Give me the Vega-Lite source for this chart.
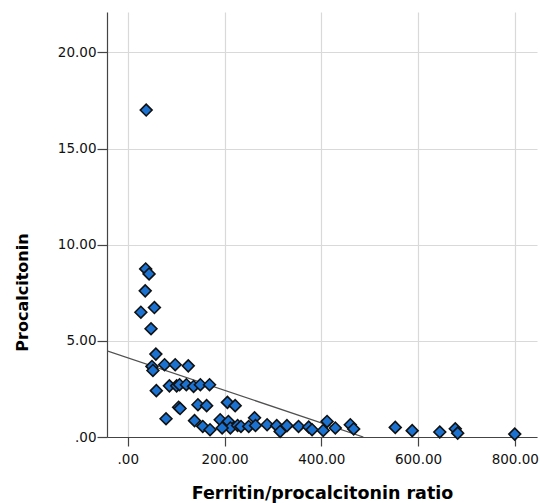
{
  "$schema": "https://vega.github.io/schema/vega-lite/v6.json",
  "width": 430,
  "height": 425,
  "autosize": "none",
  "padding": {"left": 107, "top": 12, "right": 3, "bottom": 66},
  "background": "white",
  "config": {
    "view": {"stroke": null},
    "axis": {
      "labelFont": "DejaVu Sans",
      "labelFontSize": 13.5,
      "labelColor": "#111111",
      "titleFont": "DejaVu Sans",
      "titleFontSize": 16,
      "titleFontWeight": "bold",
      "titleColor": "#000000",
      "domainColor": "#444444",
      "domainWidth": 1.2,
      "tickColor": "#444444",
      "tickWidth": 1.2,
      "gridColor": "#d9d9d9",
      "gridWidth": 1.2
    }
  },
  "datasets": {
    "pts": [
      {"ratio": 38, "pct": 17.0},
      {"ratio": 37, "pct": 8.74},
      {"ratio": 44, "pct": 8.48},
      {"ratio": 36, "pct": 7.6},
      {"ratio": 27, "pct": 6.49},
      {"ratio": 55, "pct": 6.73},
      {"ratio": 48, "pct": 5.63},
      {"ratio": 58, "pct": 4.31},
      {"ratio": 50, "pct": 3.67},
      {"ratio": 52, "pct": 3.46},
      {"ratio": 76, "pct": 3.76},
      {"ratio": 98, "pct": 3.76},
      {"ratio": 125, "pct": 3.7},
      {"ratio": 59, "pct": 2.41},
      {"ratio": 86, "pct": 2.66},
      {"ratio": 101, "pct": 2.66},
      {"ratio": 107, "pct": 2.72},
      {"ratio": 121, "pct": 2.72},
      {"ratio": 136, "pct": 2.63},
      {"ratio": 150, "pct": 2.72},
      {"ratio": 169, "pct": 2.72},
      {"ratio": 105, "pct": 1.55},
      {"ratio": 108, "pct": 1.48},
      {"ratio": 145, "pct": 1.68},
      {"ratio": 163, "pct": 1.63},
      {"ratio": 206, "pct": 1.8},
      {"ratio": 222, "pct": 1.63},
      {"ratio": 79, "pct": 0.95},
      {"ratio": 138, "pct": 0.85},
      {"ratio": 155, "pct": 0.55},
      {"ratio": 170, "pct": 0.38},
      {"ratio": 191, "pct": 0.9},
      {"ratio": 208, "pct": 0.81},
      {"ratio": 212, "pct": 0.47},
      {"ratio": 195, "pct": 0.47},
      {"ratio": 227, "pct": 0.6},
      {"ratio": 234, "pct": 0.55},
      {"ratio": 250, "pct": 0.55},
      {"ratio": 262, "pct": 1.0},
      {"ratio": 264, "pct": 0.6},
      {"ratio": 288, "pct": 0.64},
      {"ratio": 308, "pct": 0.59},
      {"ratio": 315, "pct": 0.29},
      {"ratio": 329, "pct": 0.59},
      {"ratio": 353, "pct": 0.55},
      {"ratio": 374, "pct": 0.52},
      {"ratio": 381, "pct": 0.38},
      {"ratio": 404, "pct": 0.34},
      {"ratio": 412, "pct": 0.81},
      {"ratio": 429, "pct": 0.47},
      {"ratio": 460, "pct": 0.64},
      {"ratio": 467, "pct": 0.42},
      {"ratio": 553, "pct": 0.5},
      {"ratio": 588, "pct": 0.33},
      {"ratio": 645, "pct": 0.26},
      {"ratio": 677, "pct": 0.43},
      {"ratio": 682, "pct": 0.2},
      {"ratio": 800, "pct": 0.15}
    ],
    "fit": [
      {"ratio": -43, "pct": 4.48},
      {"ratio": 487, "pct": 0}
    ]
  },
  "layer": [
    {
      "data": {"name": "fit"},
      "mark": {"type": "line", "color": "#505050", "strokeWidth": 1.3, "clip": true},
      "encoding": {
        "x": {
          "field": "ratio", "type": "quantitative",
          "scale": {"domain": [-43, 846], "nice": false, "zero": false},
          "axis": {
            "values": [0, 200, 400, 600, 800],
            "labelExpr": "datum.value == 0 ? '.00' : format(datum.value, '.2f')",
            "title": "Ferritin/procalcitonin ratio",
            "titleFontSize": 17.5,
            "grid": true,
            "tickSize": 9,
            "labelPadding": 6,
            "titlePadding": 19
          }
        },
        "y": {
          "field": "pct", "type": "quantitative",
          "scale": {"domain": [0, 22.1], "nice": false, "zero": false},
          "axis": {
            "values": [0, 5, 10, 15, 20],
            "labelExpr": "datum.value == 0 ? '.00' : format(datum.value, '.2f')",
            "title": "Procalcitonin",
            "grid": true,
            "tickSize": 10,
            "labelPadding": 1,
            "titleAngle": -90,
            "titleAlign": "center",
            "titleBaseline": "middle",
            "titleX": -85,
            "titleY": 280
          }
        }
      }
    },
    {
      "data": {"name": "pts"},
      "mark": {"type": "point", "shape": "diamond", "filled": true, "size": 140, "fill": "#1b72d0", "stroke": "#111111", "strokeWidth": 1.6, "opacity": 1},
      "encoding": {
        "x": {"field": "ratio", "type": "quantitative"},
        "y": {"field": "pct", "type": "quantitative"}
      }
    }
  ]
}
